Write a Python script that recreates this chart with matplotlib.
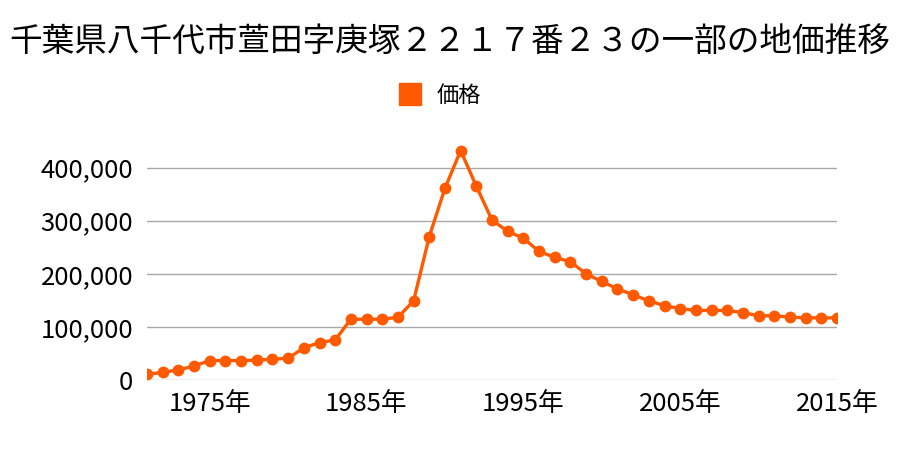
import matplotlib
matplotlib.use("Agg")
import matplotlib.pyplot as plt
from matplotlib.lines import Line2D
from matplotlib.ticker import FuncFormatter

plt.rcParams['font.family'] = ['Noto Sans CJK JP', 'DejaVu Sans']

title = '千葉県八千代市萱田字庚塚２２１７番２３の一部の地価推移'
series_name = '価格'

years = list(range(1971, 2016))
prices = [10500, 14500, 19000, 26500, 36500, 36500, 36500, 37500, 39000, 41000,
          60500, 70500, 75500, 114500, 114500, 114500, 118000, 149000, 270000, 361000,
          432000, 365000, 301000, 280000, 267000, 242000, 231000, 222500, 200000, 185500,
          171500, 160500, 149000, 140000, 134500, 131000, 131000, 131000, 127000, 121000,
          121000, 118500, 117000, 117000, 117000]

xticks = [1975, 1985, 1995, 2005, 2015]
yticks = [0, 100000, 200000, 300000, 400000]

color = '#ff5a00'

fig = plt.figure(figsize=(9, 4.5), dpi=100)
ax = fig.add_axes([147 / 900, 1 - 380 / 450, 690 / 900, 239 / 450])

ax.plot(years, prices, color=color, linewidth=2.4, marker='o', markersize=7.5, zorder=3)

ax.set_xlim(1971, 2015)
ax.set_ylim(0, 450000)
ax.set_yticks(yticks)
ax.set_xticks(xticks)
ax.yaxis.set_major_formatter(FuncFormatter(lambda v, p: '{:,}'.format(int(v))))
ax.set_xticklabels([str(y) + '年' for y in xticks])
ax.grid(axis='y', color='#aaaaaa', linewidth=1)
ax.set_axisbelow(True)
for s in ax.spines.values():
    s.set_visible(False)
ax.tick_params(length=0, labelsize=18.5)
ax.tick_params(axis='y', pad=10)
ax.tick_params(axis='x', pad=8)

fig.text(0.5, 1 - 42 / 450, title, ha='center', va='center', fontsize=23.5)

handle = Line2D([], [], color=color, marker='s', linestyle='none', markersize=16)
fig.legend([handle], [series_name], loc='center', bbox_to_anchor=(434 / 900, 1 - 95 / 450),
           frameon=False, fontsize=16, handletextpad=0.2)

fig.savefig('out.png', dpi=100)
